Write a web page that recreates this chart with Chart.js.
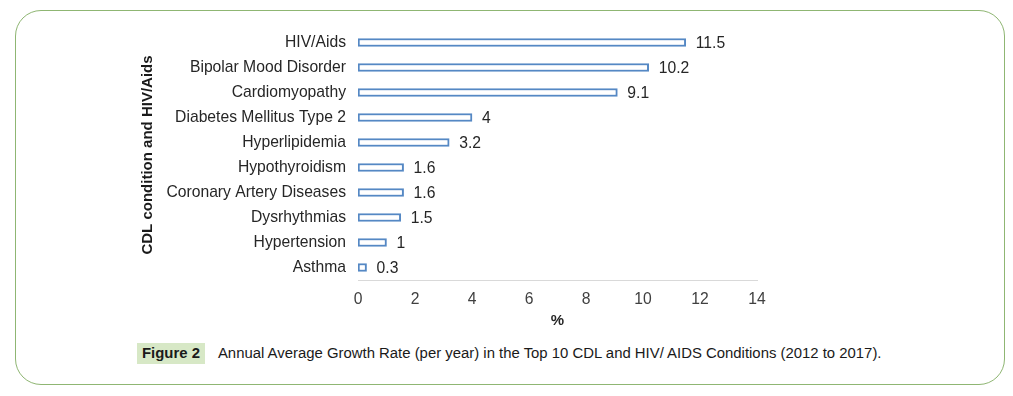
<!DOCTYPE html>
<html>
<head>
<meta charset="utf-8">
<script src="https://cdn.jsdelivr.net/npm/chart.js@4/dist/chart.umd.min.js"></script>
<style>
  html, body { margin: 0; padding: 0; background: #fff; }
  body { width: 1013px; height: 396px; position: relative; overflow: hidden; }
  .frame {
    position: absolute; left: 15px; top: 10px; width: 988px; height: 373px;
    border: 1.5px solid #8fb673; border-radius: 26px;
  }
  #wrap { position: absolute; left: 0; top: 0; width: 1013px; height: 340px; }
  .caption {
    position: absolute; left: 137px; top: 343px; height: 21px;
    font-family: "Liberation Sans", Arial, sans-serif; font-size: 14.9px; color: #1a1a1a;
    white-space: nowrap; line-height: 21px;
  }
  .caption .fig {
    display: inline-block; background: #d7e8c6; font-weight: bold;
    padding: 0 5px; margin-right: 13px;
  }
</style>
</head>
<body>
<div class="frame"></div>
<div id="wrap"><canvas id="grafica"></canvas></div>
<div class="caption"><span class="fig">Figure 2</span>Annual Average Growth Rate (per year) in the Top 10 CDL and HIV/ AIDS Conditions (2012 to 2017).</div>

<script>
const condiciones = [
    'HIV/Aids', 'Bipolar Mood Disorder', 'Cardiomyopathy', 'Diabetes Mellitus Type 2',
    'Hyperlipidemia', 'Hypothyroidism', 'Coronary Artery Diseases', 'Dysrhythmias',
    'Hypertension', 'Asthma'
];
const tasas = [11.5, 10.2, 9.1, 4, 3.2, 1.6, 1.6, 1.5, 1, 0.3];
const ejeMin = 0, ejeMax = 14, ejePaso = 2;

const fuente = '"Liberation Sans", Arial, sans-serif';

// etiquetas de valor al final de cada barra
const etiquetasValor = {
    id: 'etiquetasValor',
    afterDatasetsDraw(chart) {
        const ctx = chart.ctx;
        const meta = chart.getDatasetMeta(0);
        ctx.save();
        ctx.font = '15.7px ' + fuente;
        ctx.fillStyle = '#262626';
        ctx.textBaseline = 'middle';
        meta.data.forEach((bar, i) => {
            ctx.fillText(String(tasas[i]), bar.x + 10, bar.y + 1);
        });
        ctx.restore();
    }
};

const ctx = document.getElementById('grafica').getContext('2d');
new Chart(ctx, {
    type: 'bar',
    data: {
        labels: condiciones,
        datasets: [{
            data: tasas,
            backgroundColor: '#ffffff',
            borderColor: '#5588c4',
            borderWidth: 2,
            borderSkipped: false,
            barThickness: 8
        }]
    },
    options: {
        indexAxis: 'y',
        responsive: true,
        maintainAspectRatio: false,
        animation: false,
        layout: { padding: { left: 136, top: 30, right: 256, bottom: 0 } },
        plugins: {
            legend: { display: false },
            tooltip: { enabled: false }
        },
        scales: {
            x: {
                min: ejeMin, max: ejeMax,
                grid: { display: false },
                border: { display: true, color: '#d9d9d9', width: 1 },
                ticks: {
                    stepSize: ejePaso,
                    padding: 2,
                    color: '#404040',
                    font: { family: fuente, size: 15.7 }
                },
                title: {
                    display: true, text: '%', color: '#262626',
                    padding: { top: 0, bottom: 10 },
                    font: { family: fuente, size: 15, weight: 'bold' }
                },
                afterFit(scale) { scale.height = 60; }
            },
            y: {
                grid: { display: false },
                border: { display: false },
                ticks: {
                    padding: 4,
                    color: '#262626',
                    font: { family: fuente, size: 15.7 }
                },
                title: {
                    display: true, text: 'CDL condition and HIV/Aids', color: '#1a1a1a',
                    padding: 3,
                    font: { family: fuente, size: 15, weight: 'bold' }
                },
                afterFit(scale) { scale.width = 222; }
            }
        }
    },
    plugins: [etiquetasValor]
});
</script>
</body>
</html>
